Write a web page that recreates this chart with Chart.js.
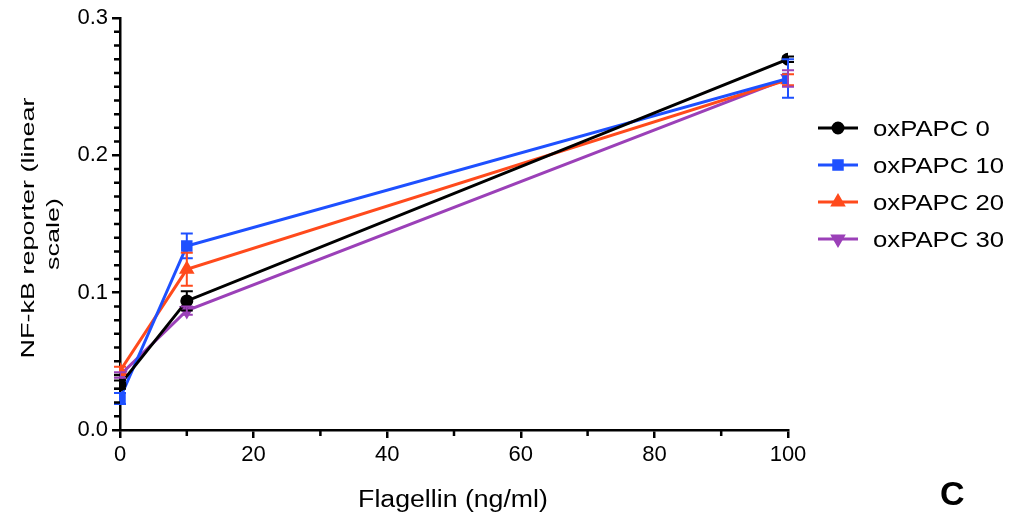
<!DOCTYPE html>
<html lang="en">
<head>
  <meta charset="UTF-8">
  <title>NF-kB reporter</title>
  <script src="https://cdn.jsdelivr.net/npm/chart.js"></script>
  <style>
    body { margin: 0; background: #fff; }
    .box { position: relative; width: 1013px; height: 517px; }
    .letra { position: absolute; left: 940px; top: 474px; font: bold 34px "Liberation Sans", Arial, sans-serif; color: #000; }
  </style>
</head>
<body>
  <div class="box">
    <canvas id="grafico" width="1013" height="517"></canvas>
    <div class="letra">C</div>
  </div>

  <script>
    // dados
    const flagelina = [0, 10, 100];
    const rotulos = ['oxPAPC 0', 'oxPAPC 10', 'oxPAPC 20', 'oxPAPC 30'];
    const oxPAPC0 = [0.033, 0.094, 0.270];
    const oxPAPC10 = [0.023, 0.134, 0.256];
    const oxPAPC20 = [0.043, 0.117, 0.255];
    const oxPAPC30 = [0.040, 0.087, 0.256];
    const erro0 = [0.003, 0.007, 0.002];
    const erro10 = [0.004, 0.009, 0.014];
    const erro20 = [0.003, 0.012, 0.004];
    const erro30 = [0.002, 0.003, 0.006];
    const tituloX = 'Flagellin (ng/ml)';
    const tituloY = ['NF-kB reporter (linear', 'scale)'];

    const cores = ['#000000', '#1e50ff', '#ff4a1c', '#9b40b8'];
    const marcadores = ['circle', 'rect', 'triangle', 'triangle'];
    const rotacoes = [0, 0, 0, 180];
    const valores = [oxPAPC0, oxPAPC10, oxPAPC20, oxPAPC30];
    const erros = [erro0, erro10, erro20, erro30];

    const fonte = "'Liberation Sans', Arial, sans-serif";

    const datasets = valores.map((serie, i) => ({
      label: rotulos[i],
      data: serie.map((v, j) => ({ x: flagelina[j], y: v })),
      borderColor: cores[i],
      backgroundColor: cores[i],
      borderWidth: 3,
      pointStyle: marcadores[i],
      rotation: rotacoes[i],
      pointRadius: i === 0 ? 5 : 6,
      tension: 0,
      erros: erros[i]
    }));

    // texto esticado na horizontal (a figura original tem as letras largas)
    function textoLargo(ctx, texto, x, y, tamanho, esticar, angulo) {
      ctx.save();
      ctx.translate(x, y);
      ctx.rotate(angulo || 0);
      ctx.scale(esticar, 1);
      ctx.font = tamanho + 'px ' + fonte;
      ctx.fillStyle = '#000';
      ctx.textAlign = 'center';
      ctx.textBaseline = 'alphabetic';
      ctx.fillText(texto, 0, 0);
      ctx.restore();
    }

    // barras de erro
    const barrasErro = {
      id: 'barrasErro',
      afterDatasetsDraw(chart) {
        const ctx = chart.ctx;
        const sx = chart.scales.x, sy = chart.scales.y;
        ctx.save();
        ctx.lineWidth = 2;
        chart.data.datasets.forEach(ds => {
          ctx.strokeStyle = ds.borderColor;
          ds.data.forEach((p, j) => {
            const e = ds.erros[j];
            const px = sx.getPixelForValue(p.x);
            const y1 = sy.getPixelForValue(p.y - e);
            const y2 = sy.getPixelForValue(p.y + e);
            ctx.beginPath();
            ctx.moveTo(px, y1); ctx.lineTo(px, y2);
            ctx.moveTo(px - 6, y1); ctx.lineTo(px + 6, y1);
            ctx.moveTo(px - 6, y2); ctx.lineTo(px + 6, y2);
            ctx.stroke();
          });
        });
        ctx.restore();
      }
    };

    // ticks menores e titulos dos eixos
    const eixos = {
      id: 'eixos',
      afterDraw(chart) {
        const ctx = chart.ctx;
        const sx = chart.scales.x, sy = chart.scales.y;
        const area = chart.chartArea;
        ctx.save();
        ctx.strokeStyle = '#000';
        ctx.lineWidth = 2.5;
        ctx.beginPath();
        for (let k = 1; k < 30; k++) {
          if (k % 10 === 0) continue;
          const py = sy.getPixelForValue(k / 100);
          ctx.moveTo(area.left - 6, py); ctx.lineTo(area.left, py);
        }
        for (let k = 10; k < 100; k += 20) {
          const px = sx.getPixelForValue(k);
          ctx.moveTo(px, area.bottom); ctx.lineTo(px, area.bottom + 6);
        }
        ctx.stroke();
        ctx.restore();

        textoLargo(ctx, tituloX, (area.left + area.right) / 2 - 1, 507, 23, 1.16, 0);
        textoLargo(ctx, tituloY[0], 34, 228, 19, 1.42, -Math.PI / 2);
        textoLargo(ctx, tituloY[1], 59, 234, 19, 1.42, -Math.PI / 2);
      }
    };

    // legenda com linha + marcador
    const legenda = {
      id: 'legenda',
      afterDraw(chart) {
        const ctx = chart.ctx;
        chart.data.datasets.forEach((ds, i) => {
          const y = 128 + i * 37;
          ctx.save();
          ctx.strokeStyle = ds.borderColor;
          ctx.fillStyle = ds.borderColor;
          ctx.lineWidth = 3;
          ctx.beginPath();
          ctx.moveTo(818, y); ctx.lineTo(858, y);
          ctx.stroke();
          Chart.helpers.drawPoint(ctx, { pointStyle: ds.pointStyle, rotation: ds.rotation, radius: ds.pointRadius, borderWidth: 1 }, 838, y);
          ctx.restore();
          ctx.save();
          ctx.translate(873, y + 8);
          ctx.scale(1.17, 1);
          ctx.font = '22px ' + fonte;
          ctx.fillStyle = '#000';
          ctx.textBaseline = 'alphabetic';
          ctx.fillText(ds.label, 0, 0);
          ctx.restore();
        });
      }
    };

    new Chart(document.getElementById('grafico'), {
      type: 'line',
      data: { datasets: datasets },
      options: {
        responsive: false,
        animation: false,
        layout: { padding: { top: 18, right: 225, left: 0, bottom: 0 } },
        plugins: { legend: { display: false }, tooltip: { enabled: false } },
        scales: {
          x: {
            type: 'linear',
            min: 0, max: 100,
            afterFit(s) { s.height = 87; },
            ticks: { stepSize: 20, color: '#000', padding: 4, font: { family: fonte, size: 22 } },
            grid: { drawOnChartArea: false, tickLength: 8, color: '#000', lineWidth: 2.5 },
            border: { color: '#000', width: 2.5 }
          },
          y: {
            min: 0, max: 0.3,
            afterFit(s) { s.width = 120; },
            ticks: { stepSize: 0.1, color: '#000', padding: 4, font: { family: fonte, size: 22 }, callback: v => v.toFixed(1) },
            grid: { drawOnChartArea: false, tickLength: 8, color: '#000', lineWidth: 2.5 },
            border: { color: '#000', width: 2.5 }
          }
        }
      },
      plugins: [barrasErro, eixos, legenda]
    });
  </script>
</body>
</html>
